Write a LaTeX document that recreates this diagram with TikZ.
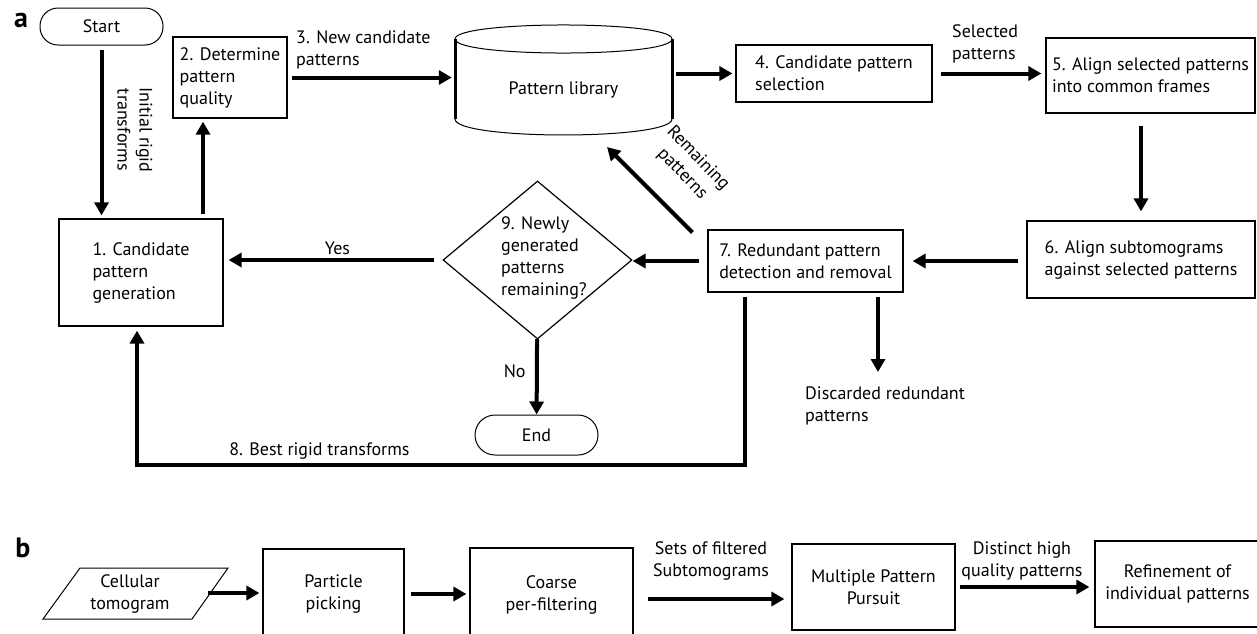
\documentclass[tikz,border=0pt]{standalone}
\usepackage{fontspec}
\setmainfont{PT Sans}
\usetikzlibrary{arrows.meta,shapes.geometric}

\begin{document}
\begin{tikzpicture}[x=1pt,y=-1pt,
		font=\fontsize{18}{22}\selectfont,
		box/.style={draw,line width=1.2pt,align=left,inner sep=0pt},
		term/.style={draw,line width=1pt,minimum width=123pt},
		lbl/.style={align=left,inner sep=0pt},
		arr/.style={line width=4pt,-{Triangle[length=13pt,width=14pt]},shorten <=4pt,shorten >=3pt},
		panel/.style={font=\fontsize{28}{28}\selectfont\bfseries,inner sep=0pt}]
	\useasboundingbox (0,0) rectangle (1257,633);

	% a
	\node[panel] (a) at (21,20) {a};
	\node[term,minimum height=37pt,rounded corners=18pt] (start) at (101.5,26.5) {Start};
	\node[box,minimum width=164pt,minimum height=107pt] (1) at (141,272.5) {1. Candidate\\pattern\\generation};
	\node[box,minimum width=114pt,minimum height=81pt] (2) at (230,77.5) {2. Determine\\pattern\\quality};
	\node[inner sep=0pt,minimum width=217pt,minimum height=110pt] (lib) at (563.5,80) {};
	\node (libtext) at (563.5,90) {Pattern library};
	\node[box,minimum width=196pt,minimum height=57pt] (4) at (834,73.5) {4. Candidate pattern\\selection};
	\node[box,minimum width=209pt,minimum height=75pt] (5) at (1150.5,75.5) {5. Align selected patterns\\into common frames};
	\node[box,minimum width=228pt,minimum height=77pt] (6) at (1141,259.5) {6. Align subtomograms\\against selected patterns};
	\node[box,minimum width=195pt,minimum height=62pt] (7) at (805.5,261) {7. Redundant pattern\\detection and removal};
	\node[draw,diamond,line width=1.2pt,inner sep=0pt,minimum width=189pt,minimum height=158pt] (9) at (537.5,260) {};
	\node[lbl] (9text) at (544,258) {9. Newly\\generated\\patterns\\remaining?};
	\node[term,minimum height=40pt,rounded corners=20pt] (end) at (536.5,435) {End};

	% cylinder
	\draw[line width=1pt] (455,39) .. controls (455,20.3) and (672,20.3) .. (672,39);
	\draw[line width=1pt] (455,39) .. controls (455,57.7) and (672,57.7) .. (672,39);
	\draw[line width=1pt] (455,119) .. controls (455,140.3) and (672,140.3) .. (672,119);
	\draw[line width=3pt] (455,39) -- (455,119);
	\draw[line width=3pt] (672,39) -- (672,119);

	\node[rotate=-90,align=center] (initlbl) at (135,130) {Initial rigid\\transforms};
	\node[lbl,anchor=west] (newlbl) at (296,50) {3. New candidate\\patterns};
	\node[lbl,anchor=west] (sellbl) at (952,44) {Selected\\patterns};
	\node[rotate=-46,align=center] (remlbl) at (690,166) {Remaining\\patterns};
	\node[lbl,anchor=west] (disc) at (805,406) {Discarded redundant\\patterns};

	\coordinate (libin) at (607,147);
	\coordinate (discin) at (878,372);
	\coordinate (c8a) at (745,465);
	\coordinate (c8b) at (137,465);

	\draw[arr] (start) -- (start |- 1.north);
	\draw[arr] ([xshift=62pt]1.north) -- ([xshift=62pt]1.north |- 2.south);
	\draw[arr] (2) -- (2 -| lib.west);
	\draw[arr] (lib.east |- 4) -- (4);
	\draw[arr,shorten <=8pt,shorten >=4pt] (4) -- (4 -| 5.west);
	\draw[arr,shorten <=12pt,shorten >=9pt] (5.south -| 6) -- (6);
	\draw[arr,shorten <=8pt,shorten >=9pt] (7 -| 6.west) -- (7);
	\draw[arr,shorten <=8pt,shorten >=0pt] (7) -- (7 -| 9.east);
	\draw[arr,shorten <=8pt,shorten >=5pt] (9) -- (9 -| 1.east) node[pos=0.48,above] {Yes};
	\draw[arr,shorten <=0pt,shorten >=0pt] (9) -- (end) node[pos=0.43,left=6pt] {No};
	\draw[arr,shorten <=0pt,shorten >=0pt] ([shift={(-15pt,-3pt)}]7.north west) -- (libin);
	\draw[arr,shorten >=0pt] (7.south -| discin) -- (discin);
	\draw[arr,shorten >=4pt] (7.south -| c8a) -- (c8a) -- (c8b) node[pos=0.7,above] {8. Best rigid transforms} -- (1.south -| c8b);

	% b
	\node[panel] (b) at (23,548) {b};
	\draw[line width=1pt] (43,619) -- (80,568) -- (228,568) -- (192,619) -- cycle;
	\node[align=center] (cell) at (130,594) {Cellular\\tomogram};
	\node[box,align=center,minimum width=141pt,minimum height=90pt] (pp) at (333.5,594) {Particle\\picking};
	\node[box,align=center,minimum width=163pt,minimum height=94pt] (coarse) at (551.5,595) {Coarse\\per-filtering};
	\node[box,align=center,minimum width=163pt,minimum height=86pt] (mpp) at (873.5,587) {Multiple Pattern\\Pursuit};
	\node[box,align=center,minimum width=165pt,minimum height=86pt] (ref) at (1177.5,584) {Refinement of\\individual patterns};
	\node[align=center] (setslbl) at (711,561) {Sets of filtered\\Subtomograms};
	\node[align=center] (distlbl) at (1022,561) {Distinct high\\quality patterns};

	\coordinate (cellout) at (208,593);
	\coordinate (setsin) at (648,599);

	\draw[arr,shorten <=0pt] (cellout) -- (cellout -| pp.west);
	\draw[arr,shorten <=6pt] (pp) -- (pp -| coarse.west);
	\draw[arr,shorten <=0pt,shorten >=7pt] (setsin) -- (setsin -| mpp.west);
	\draw[arr,shorten >=5pt] (mpp) -- (mpp -| ref.west);
\end{tikzpicture}
\end{document}
